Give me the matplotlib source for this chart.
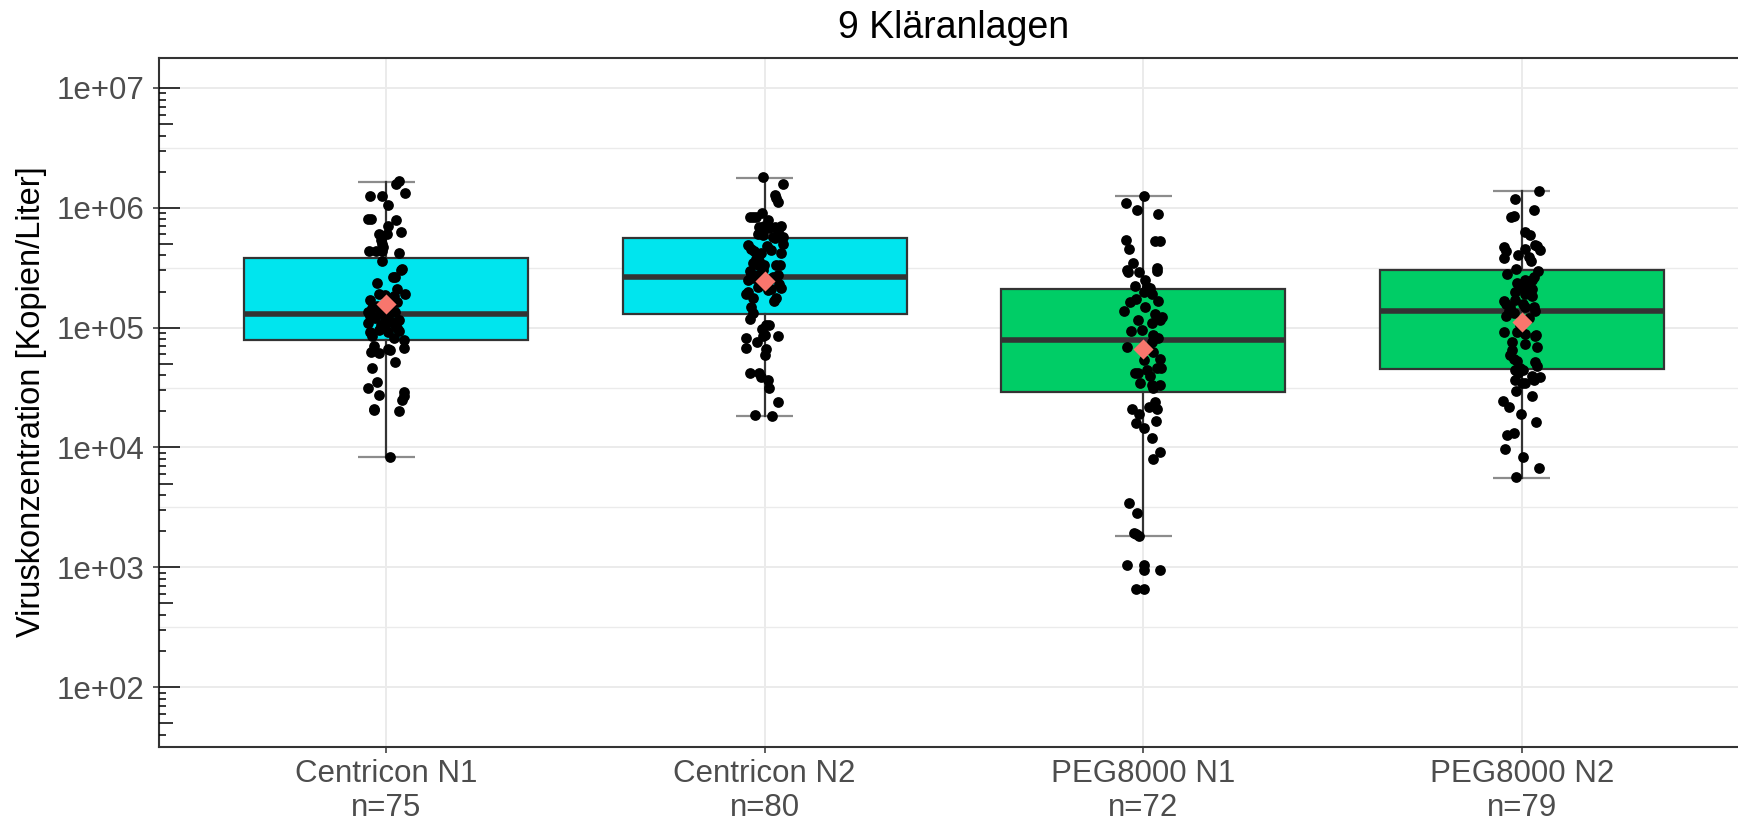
import numpy as np
import matplotlib
matplotlib.use("Agg")
import matplotlib.pyplot as plt
from matplotlib.transforms import blended_transform_factory

plt.rcParams['font.family'] = ['Liberation Sans', 'DejaVu Sans']

# ---------------- data ----------------
title = "9 Kläranlagen"
ylabel = "Viruskonzentration [Kopien/Liter]"
categories = ["Centricon N1", "Centricon N2", "PEG8000 N1", "PEG8000 N2"]
n_labels = ["n=75", "n=80", "n=72", "n=79"]
box_colors = ["#00E5EE", "#00E5EE", "#00CD66", "#00CD66"]
ytick_values = [1e2, 1e3, 1e4, 1e5, 1e6, 1e7]
ytick_labels = ["1e+02", "1e+03", "1e+04", "1e+05", "1e+06", "1e+07"]

# box summaries (Kopien/Liter)
q1 = [7.9e4, 1.31e5, 2.91e4, 4.48e4]
median = [1.30e5, 2.65e5, 7.85e4, 1.37e5]
q3 = [3.82e5, 5.6e5, 2.11e5, 3.03e5]
whisker_low = [8.3e3, 1.82e4, 1.84e3, 5.6e3]
whisker_high = [1.64e6, 1.78e6, 1.26e6, 1.37e6]
means = [1.56e5, 2.44e5, 6.6e4, 1.12e5]

# individual measurements: log10(Kopien/Liter) and horizontal jitter
log_centricon_n1 = [6.22, 6.20, 6.12, 6.10, 6.10, 6.02, 5.91, 5.91, 5.90, 5.85,
                    5.80, 5.78, 5.78, 5.73, 5.70, 5.67, 5.64, 5.64, 5.64, 5.62,
                    5.56, 5.49, 5.48, 5.42, 5.42, 5.37, 5.32, 5.28, 5.27, 5.28,
                    5.26, 5.23, 5.21, 5.18, 5.18, 5.16, 5.13, 5.10, 5.12, 5.10,
                    5.13, 5.06, 5.08, 5.05, 5.06, 5.04, 5.02, 5.00, 4.98, 5.02,
                    5.00, 4.97, 4.96, 4.93, 4.96, 4.91, 4.90, 4.85, 4.80, 4.79,
                    4.82, 4.81, 4.83, 4.71, 4.66, 4.55, 4.50, 4.44, 4.46, 4.43,
                    4.40, 4.32, 4.31, 4.30, 3.92]
jit_centricon_n1 = [0.034, 0.026, 0.050, -0.042, -0.011, 0.004, -0.047, -0.040, 0.026, 0.006,
                    0.040, -0.018, 0.002, -0.013, -0.011, -0.007, -0.045, -0.027, -0.010, 0.033,
                    -0.010, 0.043, 0.040, 0.024, 0.019, -0.023, 0.028, -0.020, -0.004, 0.050,
                    0.022, -0.042, 0.028, -0.025, 0.011, -0.038, -0.047, -0.042, -0.016, 0.006,
                    0.024, 0.033, -0.029, 0.015, -0.003, -0.047, -0.013, -0.004, -0.018, 0.024,
                    0.028, 0.033, -0.042, -0.038, 0.006, 0.022, 0.046, -0.033, -0.040, -0.018,
                    0.004, 0.011, 0.046, 0.024, -0.038, -0.025, -0.048, -0.018, 0.048, 0.046,
                    0.041, -0.031, -0.033, 0.034, 0.009]

log_centricon_n2 = [6.26, 6.20, 6.11, 6.08, 6.05, 5.96, 5.92, 5.92, 5.92, 5.90,
                    5.85, 5.85, 5.84, 5.83, 5.78, 5.77, 5.76, 5.75, 5.76, 5.69,
                    5.66, 5.68, 5.70, 5.62, 5.60, 5.57, 5.62, 5.54, 5.52, 5.52,
                    5.52, 5.47, 5.45, 5.44, 5.40, 5.44, 5.40, 5.37, 5.36, 5.33,
                    5.30, 5.28, 5.32, 5.31, 5.25, 5.22, 5.17, 5.12, 5.07, 5.02,
                    5.02, 4.99, 4.94, 4.93, 4.91, 4.83, 4.88, 4.82, 4.77, 4.62,
                    4.62, 4.59, 4.56, 4.50, 4.38, 4.27, 4.26, 5.64, 5.56, 5.48,
                    5.41, 5.42, 5.34, 5.36, 5.52, 5.65, 5.84, 5.81, 5.25, 4.93]
jit_centricon_n2 = [-0.005, 0.048, 0.027, 0.030, 0.034, -0.008, -0.040, -0.032, -0.023, 0.008,
                    -0.001, 0.043, 0.026, 0.012, -0.018, -0.005, 0.021, 0.026, 0.048, -0.045,
                    -0.036, 0.006, 0.048, -0.010, -0.018, -0.023, 0.043, -0.032, -0.018, -0.001,
                    0.041, -0.040, -0.036, 0.034, -0.045, -0.018, 0.012, -0.010, 0.039, 0.043,
                    -0.045, -0.049, 0.017, 0.008, 0.030, 0.024, -0.036, -0.032, -0.040, 0.004,
                    0.012, -0.008, 0.001, 0.034, -0.049, -0.049, -0.021, 0.004, 0.001, -0.038,
                    -0.016, -0.011, 0.008, 0.012, 0.034, -0.025, 0.019, -0.027, -0.014, -0.005,
                    -0.027, 0.021, -0.018, -0.001, 0.030, 0.017, -0.014, 0.034, -0.032, -0.005]

log_peg_n1 = [6.10, 6.04, 5.98, 5.95, 5.73, 5.66, 5.72, 5.72, 5.54, 5.48,
              5.46, 5.50, 5.47, 5.46, 5.40, 5.35, 5.34, 5.33, 5.30, 5.28,
              5.21, 5.24, 5.22, 5.14, 5.17, 5.11, 5.09, 5.06, 5.06, 5.04,
              4.97, 4.94, 4.91, 4.84, 4.88, 4.73, 4.80, 4.74, 4.65, 4.60,
              4.62, 4.62, 4.66, 4.66, 4.54, 4.52, 4.50, 4.52, 4.38, 4.32,
              4.34, 4.32, 4.28, 4.22, 4.20, 4.16, 4.08, 3.96, 3.90, 3.54,
              3.45, 3.29, 3.28, 3.26, 3.02, 3.02, 2.98, 2.98, 2.82, 2.82,
              4.98, 4.82]
jit_peg_n1 = [0.002, -0.046, -0.016, 0.040, -0.046, -0.037, 0.031, 0.044, -0.026, -0.042,
              -0.040, 0.035, 0.037, -0.011, 0.004, -0.022, 0.009, 0.018, 0.002, 0.022,
              -0.035, -0.020, 0.040, -0.050, 0.004, 0.031, 0.050, 0.044, -0.013, 0.022,
              -0.033, 0.025, 0.040, -0.042, 0.022, 0.002, 0.026, 0.044, 0.009, 0.018,
              -0.022, -0.015, 0.035, 0.048, -0.009, 0.022, 0.025, 0.044, 0.031, -0.031,
              0.015, 0.035, -0.011, 0.033, -0.018, 0.002, 0.022, 0.044, 0.026, -0.037,
              -0.016, -0.025, -0.018, -0.011, -0.042, 0.002, 0.002, 0.044, -0.020, 0.002,
              -0.004, 0.013]

log_peg_n2 = [6.14, 6.07, 5.98, 5.93, 5.92, 5.80, 5.77, 5.69, 5.68, 5.65,
              5.67, 5.64, 5.66, 5.61, 5.59, 5.56, 5.58, 5.49, 5.45, 5.47,
              5.42, 5.40, 5.37, 5.40, 5.35, 5.33, 5.32, 5.30, 5.28, 5.26,
              5.22, 5.20, 5.23, 5.20, 5.17, 5.17, 5.14, 5.14, 5.10, 5.12,
              4.96, 4.96, 4.88, 4.95, 4.94, 4.84, 4.86, 4.77, 4.74, 4.72,
              4.71, 4.68, 4.65, 4.66, 4.65, 4.56, 4.54, 4.54, 4.60, 4.56,
              4.59, 4.47, 4.43, 4.39, 4.34, 4.28, 4.21, 4.10, 4.12, 3.99,
              3.92, 3.83, 3.75, 5.17, 5.08, 5.02, 4.93, 4.81, 4.62]
jit_peg_n2 = [0.046, -0.019, 0.033, -0.022, -0.028, 0.007, 0.022, 0.035, 0.040, 0.048,
              -0.048, -0.042, 0.009, -0.011, 0.018, 0.025, -0.048, -0.015, -0.040, 0.042,
              0.031, 0.026, -0.013, 0.009, 0.013, 0.000, 0.026, -0.018, 0.009, 0.028,
              -0.048, -0.042, -0.019, 0.004, 0.009, 0.031, 0.035, -0.035, -0.042, -0.022,
              -0.048, -0.013, -0.026, 0.009, 0.038, 0.040, 0.009, -0.031, -0.022, -0.013,
              0.035, 0.040, -0.018, -0.004, 0.004, -0.018, 0.000, 0.007, 0.026, 0.031,
              0.048, -0.016, 0.028, -0.050, -0.035, -0.003, 0.037, -0.040, -0.022, -0.044,
              0.004, 0.046, -0.015, -0.031, 0.018, -0.004, 0.035, -0.026, -0.009]

point_logs = [log_centricon_n1, log_centricon_n2, log_peg_n1, log_peg_n2]
point_jitter = [jit_centricon_n1, jit_centricon_n2, jit_peg_n1, jit_peg_n2]

# ---------------- figure ----------------
W, H, DPI = 1738, 822, 100
fig = plt.figure(figsize=(W / DPI, H / DPI), dpi=DPI)
ax_left, ax_right, ax_top, ax_bottom = 159, 1749, 58, 747
ax = fig.add_axes([ax_left / W, 1 - ax_bottom / H,
                   (ax_right - ax_left) / W, (ax_bottom - ax_top) / H])
ax.set_yscale('log')
ax.set_xlim(0.4, 4.6)
ax.set_ylim(10 ** 1.744, 10 ** 7.25)

positions = np.arange(1, len(categories) + 1)
dark = '#333333'

# error-bar caps (grey)
ax.hlines(whisker_low, positions - 0.075, positions + 0.075, color='#8C8C8C', lw=1.6, zorder=1.5)
ax.hlines(whisker_high, positions - 0.075, positions + 0.075, color='#8C8C8C', lw=1.6, zorder=1.5)

stats = []
for i in range(len(categories)):
    stats.append(dict(med=median[i], q1=q1[i], q3=q3[i], whislo=whisker_low[i],
                      whishi=whisker_high[i], mean=means[i], fliers=[]))
bp = ax.bxp(stats, positions=positions, widths=0.75, patch_artist=True,
            showcaps=False, showfliers=False, showmeans=False,
            boxprops=dict(edgecolor=dark, linewidth=1.6),
            medianprops=dict(color=dark, linewidth=4.0, solid_capstyle='butt'),
            whiskerprops=dict(color=dark, linewidth=1.6),
            manage_ticks=False, zorder=2)
for patch, c in zip(bp['boxes'], box_colors):
    patch.set_facecolor(c)

# jittered points
for i, (logs, jit) in enumerate(zip(point_logs, point_jitter)):
    ax.scatter(positions[i] + np.array(jit), 10 ** np.array(logs), s=60,
               color='black', linewidths=0, zorder=3)

# means
ax.scatter(positions, means, marker='D', s=105, color='#F8766D', linewidths=0, zorder=4)

# axes styling
ax.set_yticks(ytick_values)
ax.set_yticklabels(ytick_labels)
minor = [10 ** (d + 0.5) for d in range(1, 7)]
ax.set_yticks(minor, minor=True)
ax.yaxis.set_minor_formatter(matplotlib.ticker.NullFormatter())
ax.tick_params(axis='y', which='minor', length=0)
ax.set_xticks(positions)
ax.set_xticklabels([f"{c}\n{n}" for c, n in zip(categories, n_labels)], linespacing=1.15)
ax.tick_params(axis='both', which='major', direction='out', length=4.3, width=1.1,
               color=dark, labelsize=22.5, labelcolor='#4D4D4D')
ax.tick_params(axis='y', which='major', pad=6)
ax.tick_params(axis='x', which='major', pad=4.5)

ax.grid(True, which='major', color='#EBEBEB', lw=1.4, zorder=0)
ax.grid(True, which='minor', axis='y', color='#EBEBEB', lw=1.0, zorder=0)
ax.set_axisbelow(True)
for s in ax.spines.values():
    s.set_color(dark)
    s.set_linewidth(1.5)

# log ticks on the left inside the panel
trans = blended_transform_factory(ax.transAxes, ax.transData)
axw = ax_right - ax_left
ylo, yhi = ax.get_ylim()
for d in range(1, 8):
    for k in range(1, 10):
        v = k * 10 ** d
        if ylo <= v <= yhi:
            L = 21 if k == 1 else (14 if k == 5 else 7)
            ax.plot([0, L / axw], [v, v], transform=trans, color='black', lw=1.1,
                    solid_capstyle='butt', zorder=5, clip_on=False)

fig.text(32 / W, 1 - 402 / H, ylabel, rotation=90, ha='center', va='center',
         fontsize=23.5, color='black')
fig.text((ax_left + ax_right) / 2 / W, 1 - 28.5 / H, title, ha='center', va='center',
         fontsize=27, color='black')

fig.savefig('out.png', dpi=DPI)
